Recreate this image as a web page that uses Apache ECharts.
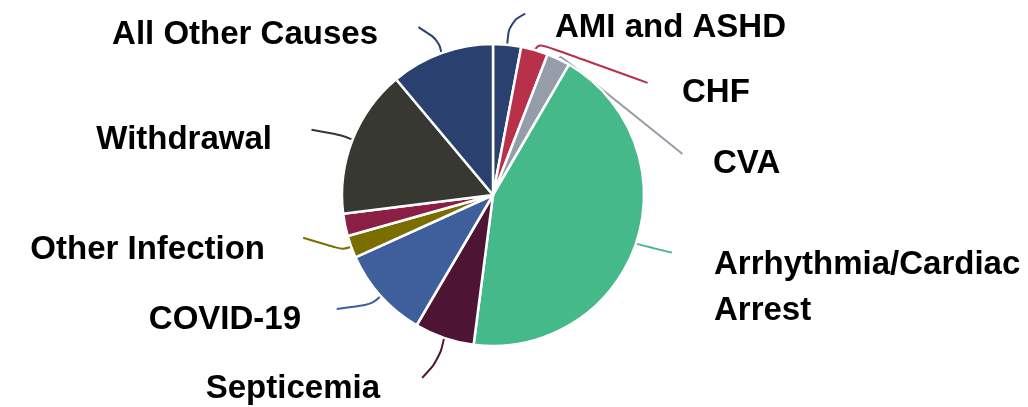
<!DOCTYPE html>
<html>
<head>
<meta charset="utf-8">
<script src="https://cdn.jsdelivr.net/npm/echarts@6/dist/echarts.min.js"></script>
<style>
  html, body { margin: 0; padding: 0; background: #ffffff; }
  #chart { width: 1028px; height: 407px; }
</style>
</head>
<body>
<div id="chart"></div>
<script>
// ---- data (clockwise from 12 o'clock, percent of deaths) ----
const categories = [
  'AMI and ASHD', 'CHF', 'CVA', 'Arrhythmia/Cardiac\nArrest', 'Septicemia',
  'COVID-19', 'Other Infection', '(unlabeled)', 'Withdrawal', 'All Other Causes'
];
const values = [3.0, 2.9, 2.5, 43.7, 6.4, 9.8, 2.4, 2.4, 15.9, 11.1];
const colors = [
  '#2a4170', '#b8304a', '#959ea8', '#46b98a', '#4d1533',
  '#3e5f9c', '#7a6e00', '#8b1f45', '#383832', '#2a4170'
];
const showLabel = [true, true, true, true, true, true, true, false, true, true];

// ---- label layout (annotation placement only) ----
const labelPos = [
  { x: 555, y: 28, align: 'left' },
  { x: 682, y: 93, align: 'left' },
  { x: 713, y: 164, align: 'left' },
  { x: 714, y: 288, align: 'left' },
  { x: 380, y: 389, align: 'right' },
  { x: 301, y: 320, align: 'right' },
  { x: 265, y: 250, align: 'right' },
  null,
  { x: 272, y: 140, align: 'right' },
  { x: 378, y: 35, align: 'right' }
];
// leader-line bends, relative to the slice's outer mid-point
const lineBends = [
  [[2, -22], [18, -31]],
  [[5, -6], [113, 33]],
  [[2, -3], [124, 95]],
  [[15, 4], [36, 9]],
  [[-5, 22], [-22, 40]],
  [[-8, 8], [-44, 13]],
  [[-8, 3], [-48, -9]],
  null,
  [[-12, -5], [-41, -10]],
  [[-3, -13], [-23, -26]]
];

const chart = echarts.init(document.getElementById('chart'), null, { renderer: 'canvas' });

const data = categories.map((name, i) => ({
  name: name,
  value: values[i],
  itemStyle: { color: colors[i] },
  label: { show: showLabel[i] },
  labelLine: { show: showLabel[i] }
}));

chart.setOption({
  animation: false,
  backgroundColor: '#ffffff',
  series: [{
    type: 'pie',
    center: [493, 195],
    radius: 151,
    startAngle: 90,
    clockwise: true,
    avoidLabelOverlap: false,
    data: data,
    itemStyle: { borderColor: '#ffffff', borderWidth: 2.5 },
    label: {
      show: true,
      position: 'outside',
      color: '#000000',
      fontFamily: '"Liberation Sans", Arial, sans-serif',
      fontWeight: 'bold',
      fontSize: 33,
      lineHeight: 46
    },
    labelLine: {
      show: true,
      length: 10,
      length2: 10,
      smooth: 0.4,
      lineStyle: { width: 2 }
    },
    labelLayout: function (params) {
      const i = params.dataIndex;
      const p = labelPos[i];
      if (!p) return {};
      const res = { x: p.x, y: p.y, align: p.align, verticalAlign: 'middle' };
      const pts = params.labelLinePoints;
      if (pts && lineBends[i]) {
        const s = pts[0];
        const out = [[s[0], s[1]]];
        lineBends[i].forEach(d => out.push([s[0] + d[0], s[1] + d[1]]));
        res.labelLinePoints = out;
      }
      return res;
    }
  }]
});
</script>
</body>
</html>
